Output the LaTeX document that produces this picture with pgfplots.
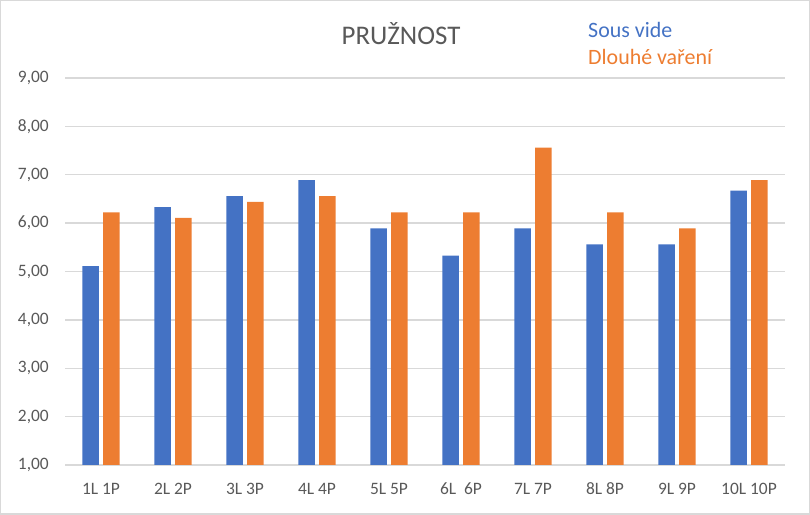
\documentclass[border=0pt]{standalone}
\usepackage{fontspec}
\setmainfont{Carlito}
\usepackage{pgfplots}
\pgfplotsset{compat=1.18}
\definecolor{sblue}{HTML}{4472C4}
\definecolor{sorange}{HTML}{ED7D31}
\definecolor{tgray}{HTML}{595959}
\definecolor{ggray}{HTML}{D9D9D9}
\begin{document}
\begin{tikzpicture}[x=1bp,y=1bp]
\path[use as bounding box] (0,0) rectangle (810,515);
\draw[ggray, line width=1.5bp] (0.75,0.75) rectangle (809.25,514.25);
\begin{axis}[
  at={(65bp,50bp)}, anchor=south west,
  scale only axis, width=720bp, height=387bp,
  ymin=1, ymax=9, xmin=-0.5, xmax=9.5,
  ytick={1,2,...,9},
  xtick=data,
  xticklabels={1L 1P,2L 2P,3L 3P,4L 4P,5L 5P,6L\ \ 6P,7L 7P,8L 8P,9L 9P,10L 10P},
  ybar=4.4bp, bar width=16.5bp,
  axis line style={draw=none},
  major tick length=0pt,
  ymajorgrids, grid style={ggray, line width=1.3bp},
  /pgf/number format/assume math mode=true,
  yticklabel={\pgfmathprintnumber[fixed,fixed zerofill,precision=2,use comma]{\tick}},
  ticklabel style={font=\fontsize{17.5}{20}\selectfont, text=tgray},
  yticklabel style={anchor=east, inner sep=0pt, xshift=-16bp},
  xticklabel style={anchor=base, inner sep=0pt, yshift=-30bp},
]
\addplot[fill=sblue, draw=none] coordinates {(0,5.11) (1,6.33) (2,6.56) (3,6.89) (4,5.89) (5,5.33) (6,5.89) (7,5.56) (8,5.56) (9,6.67)};
\addplot[fill=sorange, draw=none] coordinates {(0,6.22) (1,6.11) (2,6.44) (3,6.56) (4,6.22) (5,6.22) (6,7.56) (7,6.22) (8,5.89) (9,6.89)};
\end{axis}
\node[anchor=base, text=tgray, font=\fontsize{27}{30}\selectfont, inner sep=0pt] at (401,470.5) {PRUŽNOST};
\node[anchor=base west, text=sblue, font=\fontsize{22}{26}\selectfont, inner sep=0pt] at (588,477.3) {Sous vide};
\node[anchor=base west, text=sorange, font=\fontsize{22}{26}\selectfont, inner sep=0pt] at (588,450) {Dlouhé vaření};
\end{tikzpicture}
\end{document}
